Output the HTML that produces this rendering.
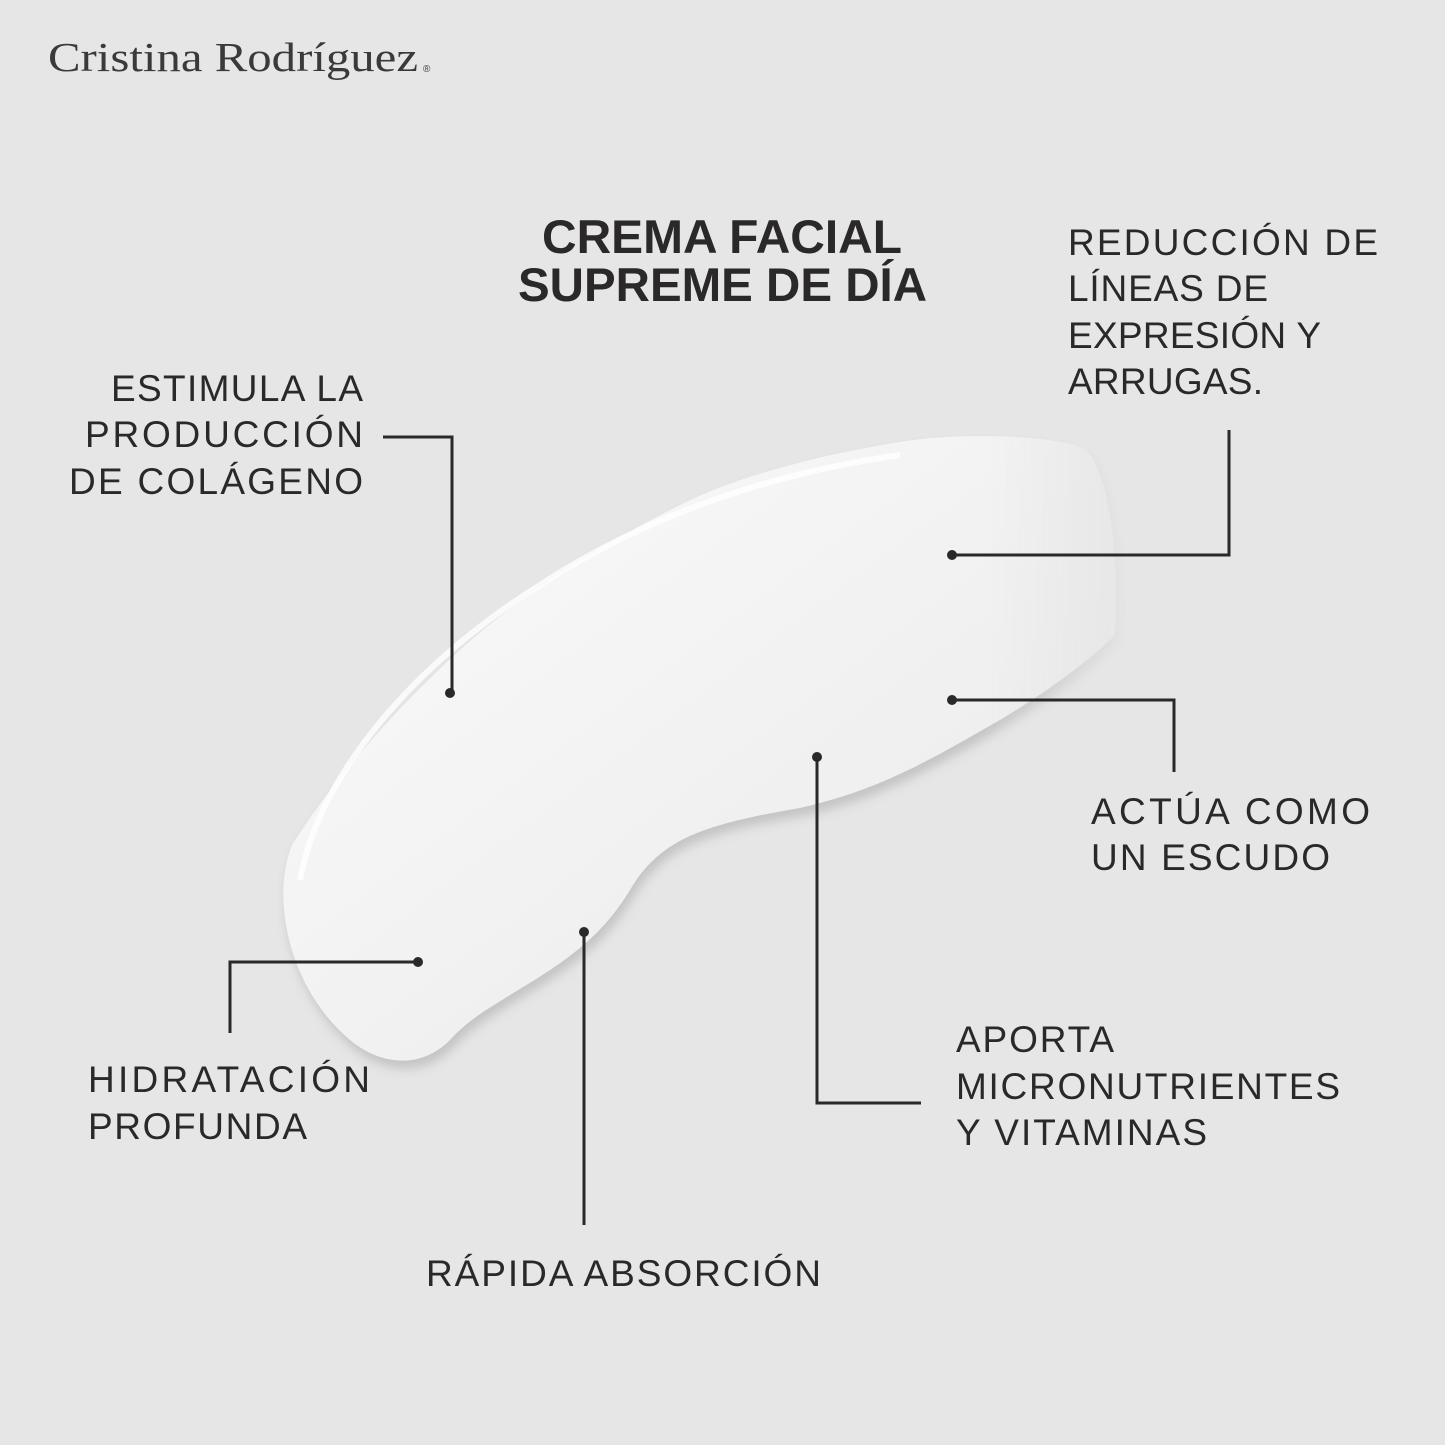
<!DOCTYPE html>
<html><head><meta charset="utf-8"><style>
html,body{margin:0;padding:0;background:#e6e6e6;}
svg{display:block;}
.l{font-family:"Liberation Sans",sans-serif;font-size:37px;fill:#2a2829;}
.t{font-family:"Liberation Sans",sans-serif;font-size:47px;font-weight:bold;fill:#2a2829;}
</style></head><body>
<svg width="1445" height="1445" viewBox="0 0 1445 1445" xmlns="http://www.w3.org/2000/svg">
<defs>
<linearGradient id="g" x1="0" y1="0" x2="1" y2="1">
<stop offset="0" stop-color="#fbfbfb"/><stop offset="0.6" stop-color="#f0f0f0"/><stop offset="1" stop-color="#e9e9e9"/>
</linearGradient>
<linearGradient id="fade" gradientUnits="userSpaceOnUse" x1="980" y1="0" x2="1120" y2="0">
<stop offset="0" stop-color="#fff"/><stop offset="1" stop-color="#fff" stop-opacity="0.15"/>
</linearGradient>
<mask id="m"><rect width="1445" height="1445" fill="url(#fade)"/></mask>
<filter id="s" x="-10%" y="-10%" width="120%" height="120%"><feGaussianBlur stdDeviation="5"/></filter>
</defs>
<rect width="1445" height="1445" fill="#e6e6e6"/>
<text x="48" y="71" font-family="'Liberation Serif',serif" font-size="41" fill="#3a3a3a" textLength="370" lengthAdjust="spacingAndGlyphs">Cristina Rodríguez</text>
<text x="423" y="72" font-family="'Liberation Sans',sans-serif" font-size="10" fill="#3a3a3a">®</text>

<g mask="url(#m)">
<path d="M292,845 C270,900 290,990 350,1040 C380,1065 420,1070 450,1040 C470,1018 490,1008 510,995 C560,965 600,940 630,890 C660,840 700,825 800,808 C880,790 930,760 1000,720 C1050,690 1090,660 1115,635 C1120,560 1110,470 1084,448 C1050,435 960,432 900,442 C820,455 740,475 680,505 C600,545 520,595 460,650 C400,705 340,770 292,845 Z" fill="#c4c4c4" filter="url(#s)" transform="translate(3,8)"/>
<path d="M292,845 C270,900 290,990 350,1040 C380,1065 420,1070 450,1040 C470,1018 490,1008 510,995 C560,965 600,940 630,890 C660,840 700,825 800,808 C880,790 930,760 1000,720 C1050,690 1090,660 1115,635 C1120,560 1110,470 1084,448 C1050,435 960,432 900,442 C820,455 740,475 680,505 C600,545 520,595 460,650 C400,705 340,770 292,845 Z" fill="url(#g)"/>
</g>
<path d="M300,880 C320,770 420,660 540,585 C640,520 760,475 900,455" stroke="#ffffff" stroke-width="6" fill="none" opacity="0.8"/>

<text class="t" x="542" y="253" textLength="360" lengthAdjust="spacingAndGlyphs">CREMA FACIAL</text>
<text class="t" x="518" y="301" textLength="409" lengthAdjust="spacingAndGlyphs">SUPREME DE DÍA</text>

<g class="l">
<text x="111" y="401" textLength="252" lengthAdjust="spacing">ESTIMULA LA</text>
<text x="85" y="447" textLength="278" lengthAdjust="spacing">PRODUCCIÓN</text>
<text x="69" y="494" textLength="294" lengthAdjust="spacing">DE COLÁGENO</text>
<text x="1068" y="255" textLength="310" lengthAdjust="spacing">REDUCCIÓN DE</text>
<text x="1068" y="301" textLength="200" lengthAdjust="spacing">LÍNEAS DE</text>
<text x="1068" y="348" textLength="253" lengthAdjust="spacing">EXPRESIÓN Y</text>
<text x="1068" y="394" textLength="195" lengthAdjust="spacing">ARRUGAS.</text>
<text x="1091" y="824" textLength="279" lengthAdjust="spacing">ACTÚA COMO</text>
<text x="1091" y="870" textLength="239" lengthAdjust="spacing">UN ESCUDO</text>
<text x="956" y="1052" textLength="158" lengthAdjust="spacing">APORTA</text>
<text x="956" y="1099" textLength="384" lengthAdjust="spacing">MICRONUTRIENTES</text>
<text x="956" y="1145" textLength="251" lengthAdjust="spacing">Y VITAMINAS</text>
<text x="88" y="1092" textLength="282" lengthAdjust="spacing">HIDRATACIÓN</text>
<text x="88" y="1139" textLength="219" lengthAdjust="spacing">PROFUNDA</text>
<text x="426" y="1286" textLength="395" lengthAdjust="spacing">RÁPIDA ABSORCIÓN</text>
</g>

<g stroke="#2a2829" stroke-width="3" fill="none">
<polyline points="383,437 452,437 452,693"/>
<polyline points="1229,430 1229,555 952,555"/>
<polyline points="952,700 1174,700 1174,772"/>
<polyline points="817,757 817,1103 921,1103"/>
<polyline points="418,962 230,962 230,1033"/>
<polyline points="584,932 584,1225"/>
</g>
<g fill="#2a2829">
<circle cx="450" cy="693" r="5"/>
<circle cx="952" cy="555" r="5"/>
<circle cx="952" cy="700" r="5"/>
<circle cx="817" cy="757" r="5"/>
<circle cx="418" cy="962" r="5"/>
<circle cx="584" cy="932" r="5"/>
</g>
</svg>
</body></html>
